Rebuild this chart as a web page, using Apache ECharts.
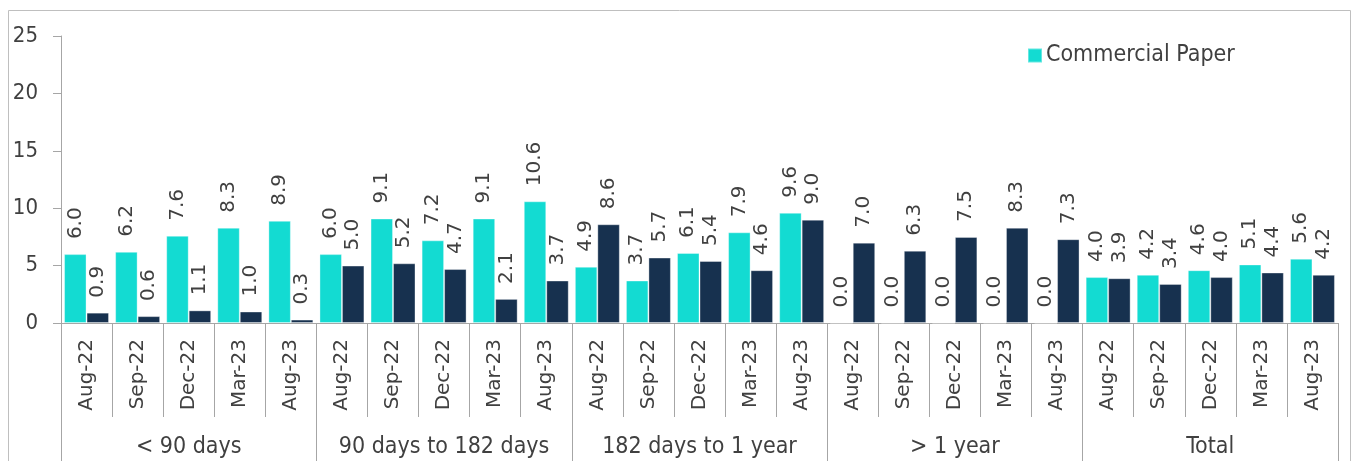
<!DOCTYPE html>
<html>
<head>
<meta charset="utf-8">
<style>
  html, body { margin: 0; padding: 0; background: #ffffff; }
  #chart { width: 1356px; height: 461px; }
</style>
<script src="https://cdn.jsdelivr.net/npm/echarts@6/dist/echarts.min.js"></script>
</head>
<body>
<div id="chart"></div>
<script>
const months = ['Aug-22', 'Sep-22', 'Dec-22', 'Mar-23', 'Aug-23'];
const groups = ['< 90 days', '90 days to 182 days', '182 days to 1 year', '> 1 year', 'Total'];
const yTicks = { min: 0, max: 25, interval: 5 };

const commercialPaper = [
  6.0, 6.2, 7.6, 8.3, 8.9,
  6.0, 9.1, 7.2, 9.1, 10.6,
  4.9, 3.7, 6.1, 7.9, 9.6,
  0.0, 0.0, 0.0, 0.0, 0.0,
  4.0, 4.2, 4.6, 5.1, 5.6
];
const secondSeries = [
  0.9, 0.6, 1.1, 1.0, 0.3,
  5.0, 5.2, 4.7, 2.1, 3.7,
  8.6, 5.7, 5.4, 4.6, 9.0,
  7.0, 6.3, 7.5, 8.3, 7.3,
  3.9, 3.4, 4.0, 4.4, 4.2
];

const categories = [];
groups.forEach(g => months.forEach(m => categories.push(m)));

const TXT = '#404040';
const AX = '#a6a6a6';
const SANS = 'DejaVu Sans';
const COND = 'DejaVu Sans Condensed, DejaVu Sans';

const labelCfg = {
  show: true,
  position: 'top',
  rotate: 90,
  align: 'left',
  verticalAlign: 'middle',
  distance: 15,
  fontFamily: SANS,
  fontSize: 20,
  color: TXT,
  formatter: p => p.value.toFixed(1)
};

const chart = echarts.init(document.getElementById('chart'), null, { renderer: 'canvas' });
chart.setOption({
  animation: false,
  backgroundColor: '#ffffff',
  graphic: [{
    type: 'rect',
    silent: true,
    z: -1,
    shape: { x: 8.5, y: 10.5, width: 1342, height: 470 },
    style: { fill: 'transparent', stroke: '#bfbfbf', lineWidth: 1 }
  }],
  legend: {
    data: ['Commercial Paper'],
    left: 1022,
    top: 39,
    icon: 'rect',
    itemWidth: 14,
    itemHeight: 14,
    itemGap: 10,
    textStyle: { fontFamily: COND, fontSize: 23, color: TXT, padding: [0, 0, 0, -1] }
  },
  grid: { left: 61, right: 18, top: 36, bottom: 138, containLabel: false },
  xAxis: [
    {
      type: 'category',
      data: categories,
      position: 'bottom',
      axisLine: { show: true, lineStyle: { color: AX, width: 1 } },
      axisTick: { show: true, interval: 0, length: 94, lineStyle: { color: AX, width: 1 } },
      axisLabel: {
        interval: 0, rotate: 90, margin: 16,
        fontFamily: SANS, fontSize: 20, color: TXT
      },
      splitLine: { show: false }
    },
    {
      type: 'category',
      data: groups,
      position: 'bottom',
      axisLine: { show: false },
      axisTick: { show: true, interval: 0, length: 145, lineStyle: { color: AX, width: 1 } },
      axisLabel: {
        interval: 0, margin: 113,
        fontFamily: COND, fontSize: 23, color: TXT
      },
      splitLine: { show: false }
    }
  ],
  yAxis: {
    type: 'value',
    min: yTicks.min,
    max: yTicks.max,
    interval: yTicks.interval,
    axisLine: { show: true, lineStyle: { color: AX, width: 1 } },
    axisTick: { show: true, length: 8, lineStyle: { color: AX, width: 1 } },
    axisLabel: { margin: 23, fontFamily: COND, fontSize: 22, color: TXT },
    splitLine: { show: false }
  },
  series: [
    {
      name: 'Commercial Paper',
      type: 'bar',
      xAxisIndex: 0,
      data: commercialPaper,
      barGap: '0%',
      barCategoryGap: '12%',
      itemStyle: { color: '#13dbd2', borderColor: 'rgba(255,255,255,0.35)', borderWidth: 1 },
      label: labelCfg
    },
    {
      name: 'Second series',
      type: 'bar',
      xAxisIndex: 0,
      data: secondSeries,
      barGap: '0%',
      barCategoryGap: '12%',
      itemStyle: { color: '#17314f', borderColor: 'rgba(255,255,255,0.35)', borderWidth: 1 },
      label: labelCfg
    }
  ]
});
</script>
</body>
</html>
